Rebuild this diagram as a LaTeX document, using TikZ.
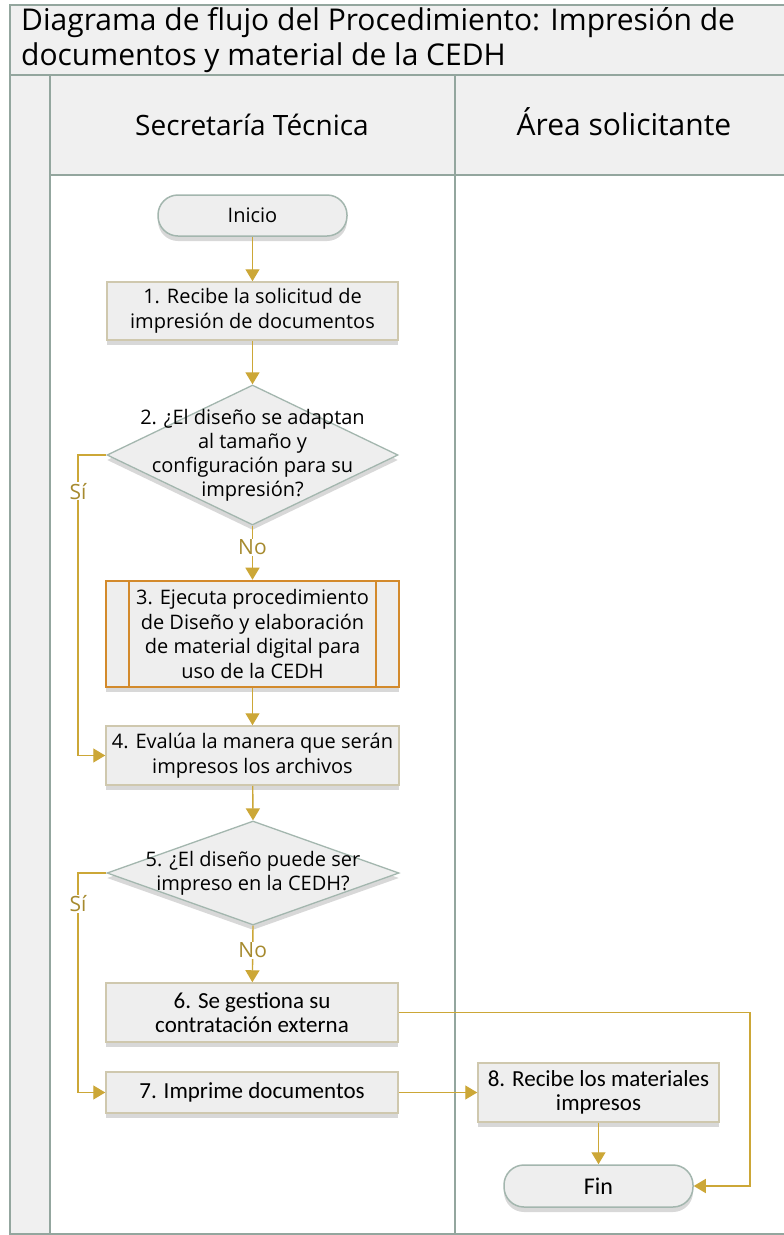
\documentclass[tikz,border=0pt]{standalone}
\usepackage{fontspec}
\setmainfont{Open Sans}
\newfontfamily\cond{Carlito}
\usetikzlibrary{arrows.meta,shapes.geometric,shadows}
\definecolor{lanec}{HTML}{93A69E}
\definecolor{hdrfill}{HTML}{F0F0F0}
\definecolor{boxfill}{HTML}{EEEEEE}
\definecolor{boxline}{HTML}{CFC8AE}
\definecolor{termline}{HTML}{A3B6AE}
\definecolor{arr}{HTML}{CCA737}
\definecolor{lbl}{HTML}{A68A2E}
\definecolor{orng}{HTML}{D38A2C}
\tikzset{
  shad/.style={drop shadow={shadow xshift=0pt,shadow yshift=-5pt,opacity=0.25,fill=black!60}},
  procbox/.style={draw=boxline,line width=1.5pt,fill=boxfill,shad,align=center,inner sep=0pt,font=\fontsize{20}{24.5}\selectfont},
  condbox/.style={procbox,font=\cond\fontsize{23}{24}\selectfont},
  termbox/.style={draw=termline,line width=1.5pt,fill=boxfill,shad,rounded corners=20pt,inner sep=0pt,font=\fontsize{20}{22}\selectfont},
  decbox/.style={draw=termline,line width=1.3pt,fill=boxfill,shad,diamond,inner sep=0pt},
  dectext/.style={align=center,font=\fontsize{20}{24}\selectfont},
  flow/.style={draw=arr,line width=1.4pt,-{Triangle[length=12pt,width=14pt]}},
  yn/.style={fill=white,text=lbl,inner sep=1pt,font=\fontsize{21}{22}\selectfont},
}
\begin{document}
\begin{tikzpicture}[x=1pt,y=-1pt]
\useasboundingbox (0,0) rectangle (784,1235);
\fill[white] (0,0) rectangle (784,1235);
% title
\draw[lanec,line width=1.2pt,fill=hdrfill] (10,5) rectangle (800,75);
\node[anchor=west,align=left,inner sep=0pt,font=\fontsize{30}{35}\selectfont] (title) at (21,40)
  {Diagrama de flujo del Procedimiento: Impresión de\\documentos y material de la CEDH};
% pool
\draw[lanec,line width=1.2pt,fill=hdrfill] (10,75) rectangle (50,1234);
\draw[lanec,line width=1.2pt,fill=hdrfill] (50,75) rectangle (800,175);
\draw[lanec,line width=1.2pt] (50,175) rectangle (800,1234);
\draw[lanec,line width=2pt] (455,75) -- (455,1234);
\node[font=\fontsize{28}{30}\selectfont] (h1) at (252,125) {Secretaría Técnica};
\node[font=\fontsize{30}{32}\selectfont] (h2) at (624,122) {Área solicitante};
% nodes
\node[termbox,minimum width=189,minimum height=41] (ini) at (252.5,215.5) {Inicio};
\node[procbox,minimum width=291,minimum height=58] (b1) at (252.5,311) {1. Recibe la solicitud de\\impresión de documentos};
\node[decbox,minimum width=291,minimum height=140] (d2) at (252.5,455) {};
\node[dectext] (t2) at (252.5,455) {2. ¿El diseño se adaptan\\al tamaño y\\configuración para su\\impresión?};
\node[procbox,draw=orng,line width=2.6pt,minimum width=293,minimum height=106] (b3) at (252.5,634)
  {3. Ejecuta procedimiento\\de Diseño y elaboración\\de material digital para\\uso de la CEDH};
\draw[orng,line width=2pt] (129,581) -- (129,687) (376,581) -- (376,687);
\node[procbox,minimum width=293,minimum height=59] (b4) at (252.5,755.5) {4. Evalúa la manera que serán\\impresos los archivos};
\node[decbox,minimum width=292,minimum height=104] (d5) at (253,873) {};
\node[dectext] (t5) at (253,873) {5. ¿El diseño puede ser\\impreso en la CEDH?};
\node[condbox,minimum width=292,minimum height=59] (b6) at (252,1012.5) {6. Se gestiona su\\contratación externa};
\node[condbox,minimum width=292,minimum height=41] (b7) at (252,1092.5) {7. Imprime documentos};
\node[condbox,minimum width=241,minimum height=59] (b8) at (598.5,1092.5) {8. Recibe los materiales\\impresos};
\node[termbox,font=\cond\fontsize{24}{24}\selectfont,minimum width=189,minimum height=42] (fin) at (598.5,1186) {Fin};
% connectors
\coordinate (s2a) at (78,455);
\coordinate (s2b) at (78,755.5);
\coordinate (s5a) at (78,873);
\coordinate (s5b) at (78,1092.5);
\coordinate (r6a) at (750,1012.5);
\coordinate (r6b) at (750,1186);
\draw[flow] (ini) -- (b1);
\draw[flow] (b1) -- (d2.north);
\draw[flow] (d2.south) -- node[yn,pos=0.4] (no2) {No} (b3);
\draw[flow] (b3) -- (b4);
\draw[flow] (d2.west) -- (s2a) -- node[yn,pos=0.12] (si2) {Sí} (s2b) -- (b4.west);
\draw[flow] (b4) -- (d5.north);
\draw[flow] (d5.south) -- node[yn,pos=0.44] (no5) {No} (b6);
\draw[flow] (d5.west) -- (s5a) -- node[yn,pos=0.14] (si5) {Sí} (s5b) -- (b7.west);
\draw[flow] (b6.east) -- (r6a) -- (r6b) -- (fin.east);
\draw[flow] (b7) -- (b8);
\draw[flow] (b8) -- (fin);
\end{tikzpicture}
\end{document}
